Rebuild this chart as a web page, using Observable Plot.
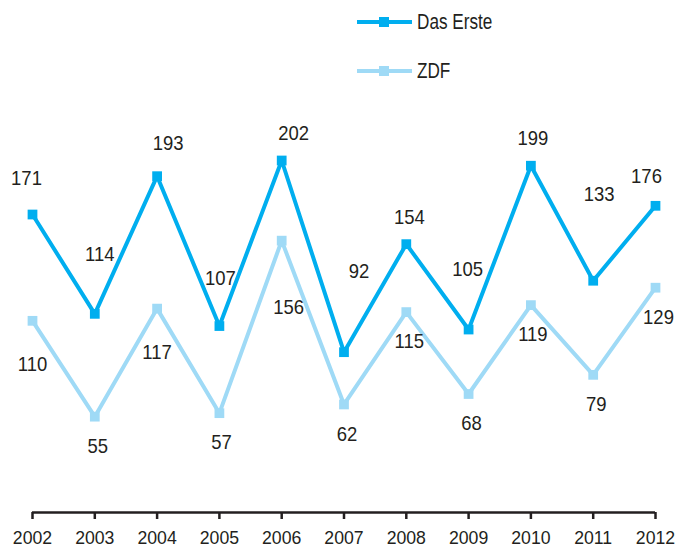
<!DOCTYPE html>
<html>
<head>
<meta charset="utf-8">
<script src="https://cdn.jsdelivr.net/npm/d3@7"></script>
<script src="https://cdn.jsdelivr.net/npm/@observablehq/plot@0.6"></script>
<style>
  html, body { margin: 0; padding: 0; background: #fff; }
  #wrap { position: relative; width: 677px; height: 547px; font-family: "Liberation Sans", Arial, sans-serif; color: #231f20; }
  .leg { position: absolute; left: 357px; display: flex; align-items: center; font-size: 22px; white-space: nowrap; }
  .leg svg { margin-right: 4px; flex: none; }
  .leg span { display: inline-block; transform: scaleX(0.78); transform-origin: left center; }
</style>
</head>
<body>
<div id="wrap"></div>
<script>
const years = [2002, 2003, 2004, 2005, 2006, 2007, 2008, 2009, 2010, 2011, 2012];
const seriesNames = ["Das Erste", "ZDF"];
const dasErste = [171, 114, 193, 107, 202, 92, 154, 105, 199, 133, 176];
const zdf = [110, 55, 117, 57, 156, 62, 115, 68, 119, 79, 129];
const colors = ["#00aeef", "#9fdaf6"];

// label offsets (px) relative to each point
const erstOffX = [-6, 5, 11, 1, 12, 15, 3, -1, 2, 6, -9];
const erstOffY = [-36, -60, -33, -48, -27, -81, -27, -60, -27, -86, -30];
const zdfOffX = [0, 3, 0, 2, 7, 3, 3, 3, 2, 3, 3];
const zdfOffY = [43, 30, 44, 29, 67, 30, 29, 29, 29, 29, 30];

const rows = [];
years.forEach((y, i) => {
  rows.push({year: y, value: dasErste[i], series: seriesNames[0], dx: erstOffX[i], dy: erstOffY[i]});
  rows.push({year: y, value: zdf[i], series: seriesNames[1], dx: zdfOffX[i], dy: zdfOffY[i]});
});

const font = '"Liberation Sans", Arial, sans-serif';
const labelMarks = rows.map(d => Plot.text([d], {
  x: "year", y: "value", text: d => String(d.value),
  dx: d.dx, dy: d.dy, fontSize: 21, fill: "#231f20"
}));

const chart = Plot.plot({
  width: 677,
  height: 547,
  marginLeft: 32,
  marginRight: 22,
  marginTop: 160,
  marginBottom: 35,
  style: {fontFamily: font, fontSize: "19px", color: "#231f20", background: "#fff"},
  x: {domain: [2002, 2012], ticks: years, tickFormat: d => String(d), label: null, tickSize: 7, tickPadding: 11},
  y: {domain: [0, 202], axis: null},
  color: {domain: seriesNames, range: colors},
  marks: [
    Plot.ruleY([0], {stroke: "#231f20", strokeWidth: 2.5}),
    Plot.line(rows, {x: "year", y: "value", z: "series", stroke: "series", strokeWidth: 4}),
    Plot.dot(rows, {x: "year", y: "value", fill: "series", symbol: "square", r: 5.5}),
    ...labelMarks
  ]
});
chart.querySelectorAll('[aria-label="x-axis tick"]').forEach(n => n.setAttribute("stroke-width", "2.5"));

const wrap = document.getElementById("wrap");
wrap.appendChild(chart);

// condense the glyphs horizontally (narrow typeface look)
chart.querySelectorAll("text").forEach(t => {
  const inAxis = !!t.closest('[aria-label="x-axis tick label"]');
  const s = inAxis ? 0.93 : 0.88;
  const len = t.getComputedTextLength();
  if (len > 0) {
    t.setAttribute("textLength", (len * s).toFixed(2));
    t.setAttribute("lengthAdjust", "spacingAndGlyphs");
  }
});

const legY = [21, 70];
seriesNames.forEach((name, i) => {
  const div = document.createElement("div");
  div.className = "leg";
  div.style.top = (legY[i] - 12) + "px";
  div.innerHTML = `<svg width="56" height="24"><line x1="0" x2="55" y1="12" y2="12" stroke="${colors[i]}" stroke-width="4"/><rect x="22" y="7" width="10" height="10" fill="${colors[i]}"/></svg><span>${name}</span>`;
  wrap.appendChild(div);
});
</script>
</body>
</html>
